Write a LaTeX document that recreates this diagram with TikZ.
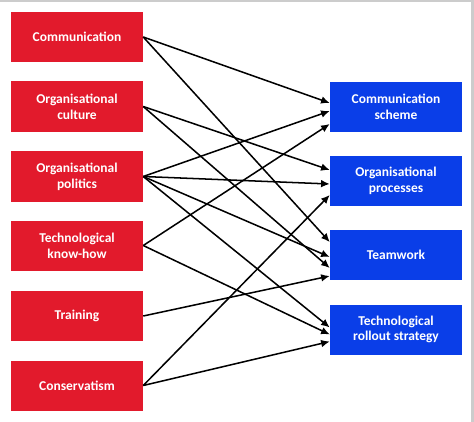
\documentclass[tikz,border=0pt]{standalone}
\usepackage{fontspec}
\setmainfont{Carlito}
\usetikzlibrary{arrows.meta,calc}
\definecolor{boxred}{RGB}{226,26,44}
\definecolor{boxblue}{RGB}{10,62,232}

\begin{document}
\begin{tikzpicture}[x=0.03cm,y=-0.03cm,
	box/.style={text=white,font=\bfseries\fontsize{11.5}{13.5}\selectfont,
		minimum width=3.96cm,minimum height=1.5cm,align=center,inner sep=0pt},
	srcbox/.style={box,fill=boxred},
	tgtbox/.style={box,fill=boxblue},
	link/.style={line width=1.3pt,-{Latex[length=2.6mm,width=2.3mm]}}]
	\useasboundingbox (0,0) rectangle (474,422);
	\draw[black!20,line width=2pt] (0,1) -- (472.5,1) -- (472.5,422);
	% factors
	\node[srcbox] (comm) at (77,37) {Communication};
	\node[srcbox] (cult) at (77,106.5) {Organisational\\culture};
	\node[srcbox] (pol) at (77,176.5) {Organisational\\politics};
	\node[srcbox] (know) at (77,245.5) {Technological\\know-how};
	\node[srcbox] (train) at (77,316) {Training};
	\node[srcbox] (cons) at (77,385.5) {Conservatism};
	% outcomes
	\node[tgtbox] (scheme) at (396,107) {Communication\\scheme};
	\node[tgtbox] (proc) at (396,181) {Organisational\\processes};
	\node[tgtbox] (team) at (396,255) {Teamwork};
	\node[tgtbox] (roll) at (396,329.5) {Technological\\rollout strategy};
	% links
	\draw[link] (comm.east) -- ($(scheme.west)+(0,-4)$);
	\draw[link] (comm.east) -- ($(team.west)+(0,-13)$);
	\draw[link] (cult.east) -- ($(proc.west)+(0,-11)$);
	\draw[link] (cult.east) -- ($(team.west)+(0,13)$);
	\draw[link] (pol.east) -- ($(scheme.west)+(0,4)$);
	\draw[link] (pol.east) -- ($(proc.west)+(0,3)$);
	\draw[link] (pol.east) -- ($(team.west)+(0,2)$);
	\draw[link] (pol.east) -- ($(roll.west)+(0,-2)$);
	\draw[link] (know.east) -- ($(scheme.west)+(0,17)$);
	\draw[link] (know.east) -- ($(roll.west)+(0,5)$);
	\draw[link] (train.east) -- ($(team.west)+(0,21)$);
	\draw[link] (cons.east) -- ($(proc.west)+(0,14)$);
	\draw[link] (cons.east) -- ($(roll.west)+(0,12)$);
\end{tikzpicture}
\end{document}
